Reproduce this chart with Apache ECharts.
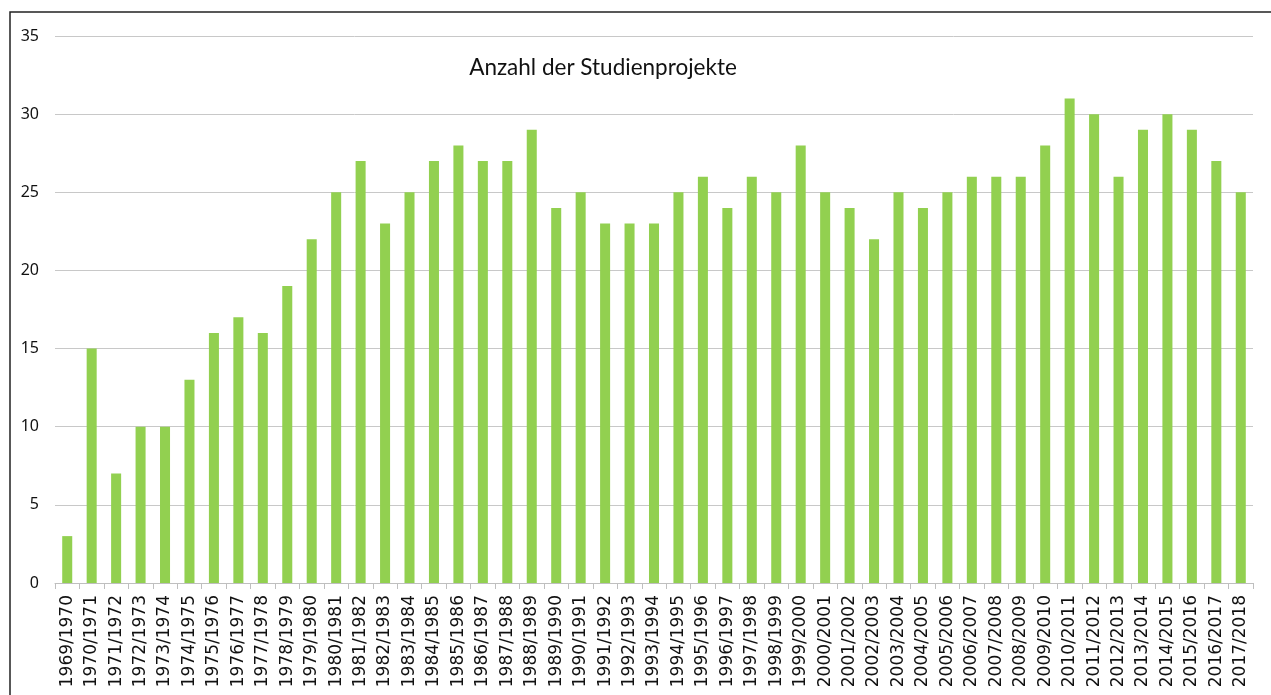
<!DOCTYPE html>
<html><head><meta charset="utf-8">
<script src="https://cdn.jsdelivr.net/npm/echarts@6/dist/echarts.min.js"></script>
<style>html,body{margin:0;padding:0;background:#fff}#c{width:1271px;height:695px}</style>
</head><body><div id="c"></div>
<script>
const categories = ["1969/1970","1970/1971","1971/1972","1972/1973","1973/1974","1974/1975","1975/1976","1976/1977","1977/1978","1978/1979","1979/1980","1980/1981","1981/1982","1982/1983","1983/1984","1984/1985","1985/1986","1986/1987","1987/1988","1988/1989","1989/1990","1990/1991","1991/1992","1992/1993","1993/1994","1994/1995","1995/1996","1996/1997","1997/1998","1998/1999","1999/2000","2000/2001","2001/2002","2002/2003","2003/2004","2004/2005","2005/2006","2006/2007","2007/2008","2008/2009","2009/2010","2010/2011","2011/2012","2012/2013","2013/2014","2014/2015","2015/2016","2016/2017","2017/2018"];
const values = [3,15,7,10,10,13,16,17,16,19,22,25,27,23,25,27,28,27,27,29,24,25,23,23,23,25,26,24,26,25,28,25,24,22,25,24,25,26,26,26,28,31,30,26,29,30,29,27,25];
const yTicks = [0,5,10,15,20,25,30,35];
const titleText = "Anzahl der Studienprojekte";

const chart = echarts.init(document.getElementById('c'), null, {renderer:'canvas'});
chart.setOption({
  animation:false,
  backgroundColor:'#fff',
  title:{text:titleText,left:598,top:51,textAlign:'center',
    textStyle:{fontFamily:'Lato',fontWeight:'normal',fontSize:22.5,color:'#111'}},
  graphic:[{type:'polyline',shape:{points:[[10,695],[10,12],[1271,12]]},
    style:{stroke:'#222',lineWidth:1.5,fill:null},silent:true}],
  grid:{left:55,right:18,top:36,bottom:112,containLabel:false},
  xAxis:{type:'category',data:categories,
    axisLine:{lineStyle:{color:'#bfbfbf',width:1}},
    axisTick:{show:true,length:6,lineStyle:{color:'#bfbfbf'}},
    axisLabel:{rotate:90,interval:0,margin:12,fontFamily:'DejaVu Sans',fontSize:17,color:'#111'}},
  yAxis:{type:'value',min:0,max:35,interval:5,
    axisLine:{show:false},axisTick:{show:false},
    splitLine:{lineStyle:{color:'#c8c8c8',width:1}},
    axisLabel:{margin:16,fontFamily:'Noto Sans',fontSize:16,color:'#111',
      formatter:v=>yTicks.includes(v)?String(v):''}},
  series:[{type:'bar',data:values,barWidth:'41%',
    itemStyle:{color:'#92d050'}}]
});
</script></body></html>
